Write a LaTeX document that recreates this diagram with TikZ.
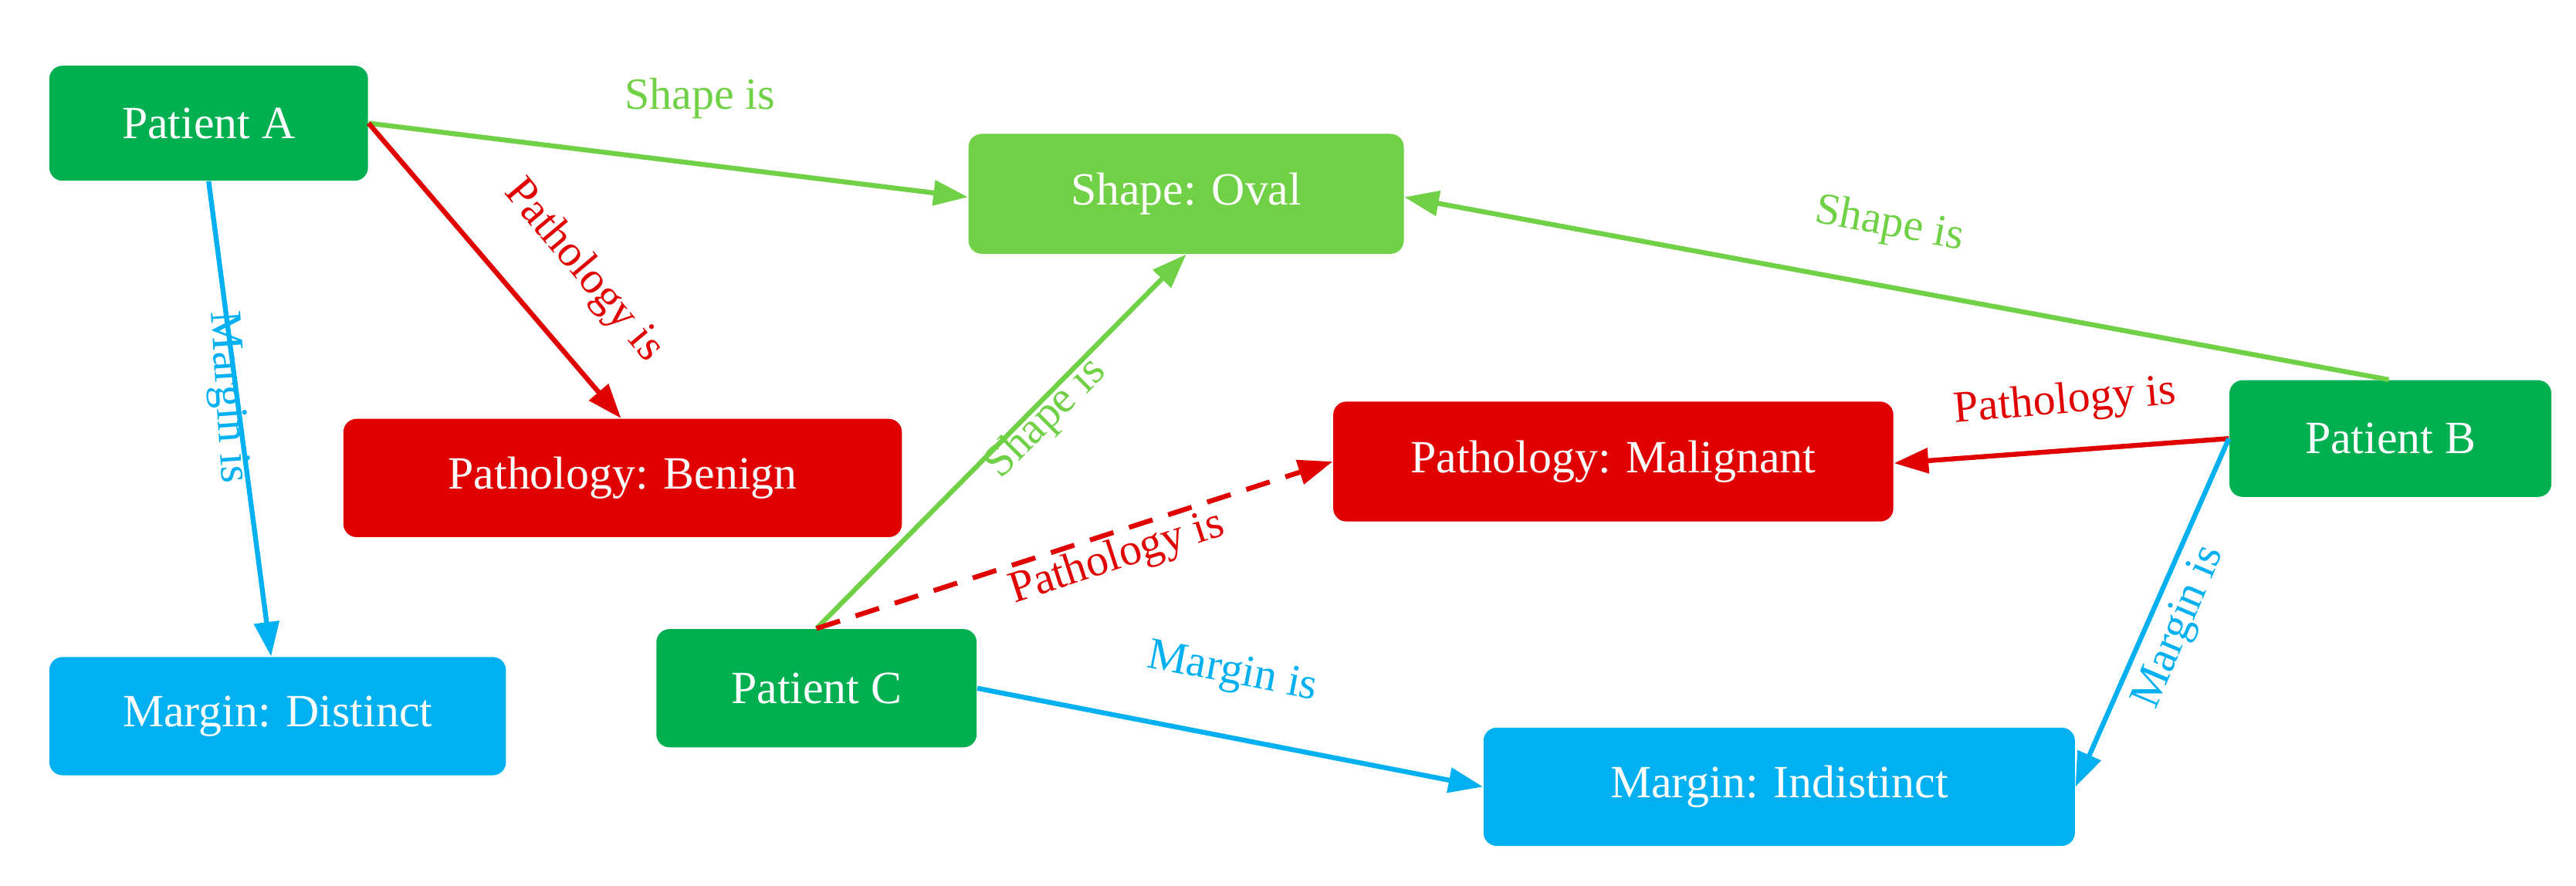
\documentclass[tikz,border=0pt]{standalone}
\usepackage{fontspec}
\setmainfont{Liberation Serif}
\usetikzlibrary{arrows.meta}
\definecolor{dg}{RGB}{0,176,80}
\definecolor{lg}{RGB}{112,208,70}
\definecolor{rd}{RGB}{224,0,0}
\definecolor{bl}{RGB}{0,176,240}
\begin{document}
\begin{tikzpicture}[x=0.02cm,y=-0.02cm,
 box/.style={rounded corners=0.16cm,text=white,font=\fontsize{16pt}{18pt}\selectfont,inner sep=0pt},
 e/.style={line width=1.7pt,-{Triangle[length=0.42cm,width=0.3cm]}},
 lab/.style={font=\fontsize{15.5pt}{17pt}\selectfont,inner sep=0pt}]
\useasboundingbox (0,0) rectangle (1568,539);
\node[box,fill=dg,minimum width=3.88cm,minimum height=1.4cm] (A) at (127,75) {Patient A};
\node[box,fill=lg,minimum width=5.3cm,minimum height=1.46cm] (O) at (722,118) {Shape: Oval};
\node[box,fill=rd,minimum width=6.8cm,minimum height=1.44cm] (PB) at (379,291) {Pathology: Benign};
\node[box,fill=rd,minimum width=6.82cm,minimum height=1.46cm] (PM) at (982,281) {Pathology: Malignant};
\node[box,fill=dg,minimum width=3.92cm,minimum height=1.42cm] (B) at (1455,267) {Patient B};
\node[box,fill=bl,minimum width=5.56cm,minimum height=1.44cm] (MD) at (169,436) {Margin: Distinct};
\node[box,fill=dg,minimum width=3.9cm,minimum height=1.44cm] (C) at (497,419) {Patient C};
\node[box,fill=bl,minimum width=7.2cm,minimum height=1.44cm] (MI) at (1083,479) {Margin: Indistinct};
% Patient A
\draw[e,lg] (A.east) -- ([yshift=-0.04cm]O.west);
\node[lab,text=lg] (l1) at (426,60) {Shape is};
\draw[e,rd] (A.east) -- ([xshift=-0.02cm]PB.north);
\node[lab,text=rd,rotate=-50] (l2) at (355,165) {Pathology is};
\draw[e,bl] (A.south) -- ([xshift=-0.08cm]MD.north);
\node[lab,text=bl,rotate=-86] (l3) at (138,242) {Margin is};
% Patient B
\draw[e,lg] ([xshift=-0.02cm]B.north) -- ([yshift=-0.04cm]O.east);
\node[lab,text=lg,rotate=-10.6] (l4) at (1150,137) {Shape is};
\draw[e,rd] (B.west) -- ([yshift=-0.02cm]PM.east);
\node[lab,text=rd,rotate=5] (l5) at (1257,245) {Pathology is};
\draw[e,bl] (B.west) -- (MI.east);
\node[lab,text=bl,rotate=67] (l6) at (1327,382) {Margin is};
% Patient C
\draw[e,lg] (C.north) -- (O.south);
\node[lab,text=lg,rotate=45] (l7) at (637,255) {Shape is};
\draw[e,rd,dashed,dash pattern=on 0.3cm off 0.2cm] (C.north) -- (PM.west);
\node[lab,text=rd,rotate=18] (l8) at (680,340) {Pathology is};
\draw[e,bl] (C.east) -- (MI.west);
\node[lab,text=bl,rotate=-11] (l9) at (750,410) {Margin is};
\end{tikzpicture}
\end{document}
